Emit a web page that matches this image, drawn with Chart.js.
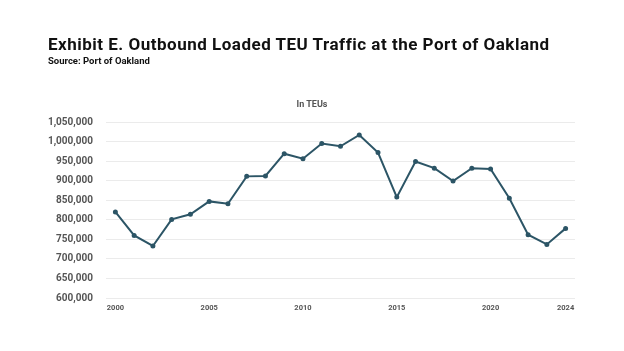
<!DOCTYPE html>
<html lang="en">
<head>
    <meta charset="UTF-8">
    <title>Outbound Loaded TEU Traffic</title>
    <script src="https://cdn.jsdelivr.net/npm/chart.js"></script>
    <style>
        html, body { margin: 0; padding: 0; background: #ffffff; }
        #wrap { position: relative; width: 624px; height: 351px; overflow: hidden; font-family: Roboto, "Noto Sans", sans-serif; }
        #title { position: absolute; left: 48px; top: 34px; font-size: 17px; letter-spacing: 0.5px; font-weight: 700; color: #111; white-space: nowrap; }
        #source { position: absolute; left: 48px; top: 55px; font-size: 9.5px; font-weight: 700; color: #111; }
        #unit { position: absolute; left: 0; width: 624px; top: 99px; text-align: center; font-size: 9px; font-weight: 700; color: #555; }
        #box { position: absolute; left: 0; top: 0; width: 624px; height: 351px; }
    </style>
</head>
<body>
<div id="wrap">
    <div id="box"><canvas id="chart"></canvas></div>
    <div id="title">Exhibit E. Outbound Loaded TEU Traffic at the Port of Oakland</div>
    <div id="source">Source: Port of Oakland</div>
    <div id="unit">In TEUs</div>
</div>
<script>
    // outbound loaded TEUs per year
    let years = [2000, 2001, 2002, 2003, 2004, 2005, 2006, 2007, 2008, 2009, 2010, 2011, 2012,
                 2013, 2014, 2015, 2016, 2017, 2018, 2019, 2020, 2021, 2022, 2023, 2024];
    let teus = [820000, 760000, 733000, 801000, 814000, 847000, 841000, 911000, 912000, 969000,
                956000, 995000, 988000, 1017000, 972000, 858000, 949000, 932000, 899000, 932000,
                930000, 855000, 762000, 737000, 778000];
    let xTicks = [2000, 2005, 2010, 2015, 2020, 2024];
    let yMin = 600000, yMax = 1050000, yStep = 50000;

    let points = years.map((y, i) => ({ x: y, y: teus[i] }));

    let ctx = document.getElementById('chart').getContext('2d');
    let myChart = new Chart(ctx, {
        type: 'line',
        data: {
            datasets: [{
                data: points,
                borderColor: '#2c5566',
                backgroundColor: '#2c5566',
                borderWidth: 2,
                pointRadius: 1.5,
                pointHoverRadius: 1.5,
                tension: 0
            }]
        },
        options: {
            responsive: true,
            maintainAspectRatio: false,
            animation: false,
            layout: { padding: { left: 0, right: 49, top: 122, bottom: 32 } },
            plugins: { legend: { display: false }, tooltip: { enabled: false } },
            scales: {
                x: {
                    type: 'linear',
                    min: 1999.5,
                    max: 2024.5,
                    grid: { display: false, drawTicks: false },
                    border: { display: false },
                    afterBuildTicks: function(scale) {
                        scale.ticks = xTicks.map(v => ({ value: v }));
                    },
                    ticks: {
                        autoSkip: false,
                        maxRotation: 0,
                        padding: 6,
                        color: '#555',
                        font: { family: 'Roboto', size: 7.5, weight: 'bold' },
                        callback: v => String(v)
                    }
                },
                y: {
                    min: yMin,
                    max: yMax,
                    afterFit: function(scale) { scale.width = 106; },
                    grid: { color: '#ebebeb', lineWidth: 1, drawTicks: false },
                    border: { display: false },
                    ticks: {
                        stepSize: yStep,
                        padding: 13,
                        color: '#555',
                        font: { family: 'Roboto', size: 10, weight: 'bold' },
                        callback: v => v.toLocaleString('en-US')
                    }
                }
            }
        }
    });
</script>
</body>
</html>
